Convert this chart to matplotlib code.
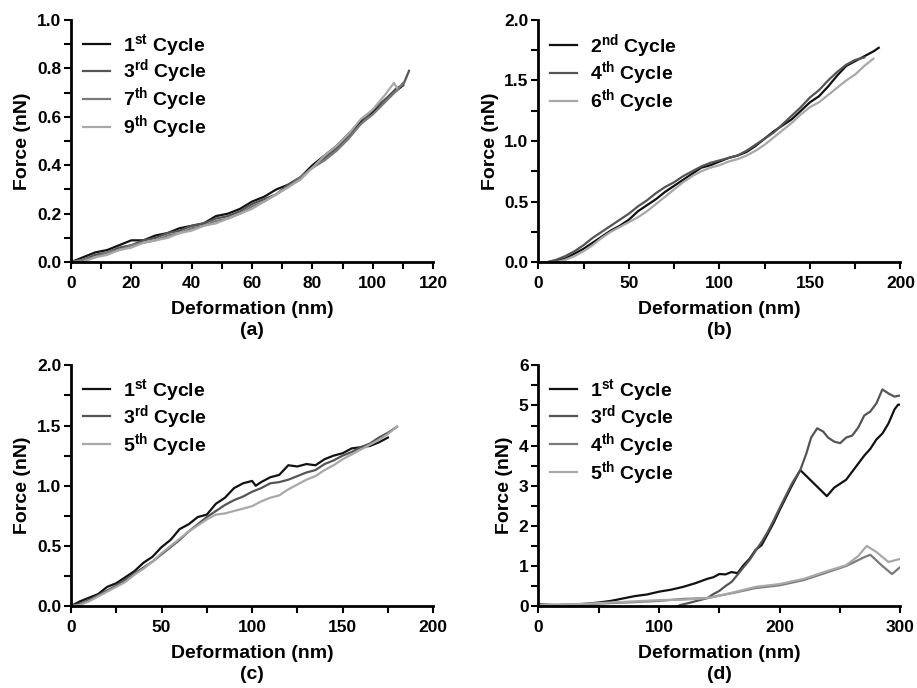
import matplotlib
matplotlib.use("Agg")
import matplotlib.pyplot as plt
from matplotlib.ticker import MultipleLocator, FormatStrFormatter

plt.rcParams["font.family"] = "Liberation Sans"
plt.rcParams["font.weight"] = "bold"
plt.rcParams["mathtext.fontset"] = "custom"
plt.rcParams["mathtext.rm"] = "Liberation Sans:bold"
plt.rcParams["mathtext.bf"] = "Liberation Sans:bold"
plt.rcParams["mathtext.it"] = "Liberation Sans:bold"

# ---- panel (a) data ----
a_x1 = [0, 4, 8, 12, 16, 20, 24, 28, 32, 36, 40, 44, 48, 52, 56, 60, 64, 68, 72, 76, 80, 84, 88, 92, 96, 100, 104, 108, 110]
a_y1 = [0.00, 0.02, 0.04, 0.05, 0.07, 0.09, 0.09, 0.11, 0.12, 0.14, 0.15, 0.16, 0.19, 0.20, 0.22, 0.25, 0.27, 0.30, 0.32, 0.35, 0.40, 0.44, 0.48, 0.53, 0.58, 0.62, 0.67, 0.71, 0.73]
a_x3 = [0, 4, 8, 12, 16, 20, 24, 28, 32, 36, 40, 44, 48, 52, 56, 60, 64, 68, 72, 76, 80, 84, 88, 92, 96, 100, 104, 108, 110, 112]
a_y3 = [0.00, 0.01, 0.03, 0.04, 0.06, 0.07, 0.09, 0.10, 0.12, 0.13, 0.15, 0.16, 0.18, 0.19, 0.21, 0.24, 0.26, 0.28, 0.32, 0.35, 0.39, 0.43, 0.47, 0.52, 0.57, 0.63, 0.67, 0.72, 0.73, 0.79]
a_x7 = [0, 4, 8, 12, 16, 20, 24, 28, 32, 36, 40, 44, 48, 52, 56, 60, 64, 68, 72, 76, 80, 84, 88, 92, 96, 100, 104, 108, 110]
a_y7 = [0.00, 0.01, 0.02, 0.04, 0.05, 0.07, 0.08, 0.09, 0.11, 0.12, 0.14, 0.15, 0.17, 0.18, 0.20, 0.23, 0.25, 0.28, 0.31, 0.35, 0.39, 0.42, 0.46, 0.51, 0.57, 0.61, 0.66, 0.71, 0.74]
a_x9 = [0, 4, 8, 12, 16, 20, 24, 28, 32, 36, 40, 44, 48, 52, 56, 60, 64, 68, 72, 76, 80, 84, 88, 92, 96, 100, 104, 107, 108]
a_y9 = [0.00, 0.00, 0.02, 0.03, 0.05, 0.06, 0.08, 0.09, 0.10, 0.12, 0.13, 0.15, 0.16, 0.18, 0.20, 0.22, 0.25, 0.28, 0.31, 0.34, 0.39, 0.44, 0.48, 0.53, 0.59, 0.63, 0.69, 0.74, 0.72]

# ---- panel (b) data ----
b_x2 = [0, 5, 10, 15, 20, 25, 30, 35, 40, 45, 50, 55, 60, 65, 70, 75, 80, 85, 90, 95, 100, 105, 110, 115, 120, 125, 130, 135, 140, 145, 150, 155, 160, 165, 170, 175, 180, 185, 188]
b_y2 = [0.00, 0.00, 0.01, 0.03, 0.07, 0.11, 0.16, 0.21, 0.26, 0.30, 0.35, 0.42, 0.47, 0.52, 0.58, 0.63, 0.68, 0.73, 0.78, 0.80, 0.83, 0.86, 0.88, 0.91, 0.96, 1.02, 1.08, 1.13, 1.18, 1.25, 1.32, 1.37, 1.45, 1.54, 1.62, 1.66, 1.70, 1.74, 1.77]
b_x4 = [0, 5, 10, 15, 20, 25, 30, 35, 40, 45, 50, 55, 60, 65, 70, 75, 80, 85, 90, 95, 100, 105, 110, 115, 120, 125, 130, 135, 140, 145, 150, 155, 160, 165, 170, 175, 180]
b_y4 = [0.00, 0.00, 0.02, 0.05, 0.09, 0.14, 0.20, 0.25, 0.30, 0.35, 0.40, 0.46, 0.51, 0.57, 0.62, 0.66, 0.71, 0.75, 0.79, 0.82, 0.84, 0.86, 0.88, 0.92, 0.97, 1.02, 1.07, 1.14, 1.21, 1.28, 1.36, 1.42, 1.50, 1.57, 1.63, 1.67, 1.69]
b_x6 = [0, 5, 10, 15, 20, 25, 30, 35, 40, 45, 50, 55, 60, 65, 70, 75, 80, 85, 90, 95, 100, 105, 110, 115, 120, 125, 130, 135, 140, 145, 150, 155, 160, 165, 170, 175, 180, 185]
b_y6 = [0.00, 0.00, 0.00, 0.02, 0.05, 0.09, 0.14, 0.20, 0.25, 0.29, 0.33, 0.37, 0.42, 0.48, 0.54, 0.60, 0.66, 0.71, 0.75, 0.78, 0.80, 0.83, 0.85, 0.88, 0.92, 0.97, 1.03, 1.09, 1.15, 1.22, 1.28, 1.32, 1.38, 1.44, 1.50, 1.55, 1.62, 1.68]

# ---- panel (c) data ----
c_x1 = [0, 5, 10, 15, 20, 25, 30, 35, 40, 45, 50, 55, 60, 65, 70, 75, 80, 85, 90, 95, 100, 102, 105, 110, 115, 120, 125, 130, 135, 140, 145, 150, 155, 160, 165, 170, 175]
c_y1 = [0.00, 0.04, 0.07, 0.10, 0.16, 0.19, 0.24, 0.29, 0.36, 0.41, 0.49, 0.55, 0.64, 0.68, 0.74, 0.76, 0.85, 0.90, 0.98, 1.02, 1.04, 1.00, 1.03, 1.07, 1.09, 1.17, 1.16, 1.18, 1.17, 1.22, 1.25, 1.27, 1.31, 1.32, 1.33, 1.36, 1.40]
c_x3 = [0, 5, 10, 15, 20, 25, 30, 35, 40, 45, 50, 55, 60, 65, 70, 75, 80, 85, 90, 95, 100, 105, 110, 115, 120, 125, 130, 135, 140, 145, 150, 155, 160, 165, 170, 175, 180]
c_y3 = [0.00, 0.02, 0.05, 0.09, 0.13, 0.17, 0.22, 0.27, 0.32, 0.37, 0.43, 0.49, 0.55, 0.62, 0.68, 0.74, 0.79, 0.84, 0.88, 0.91, 0.95, 0.98, 1.02, 1.03, 1.05, 1.08, 1.11, 1.13, 1.18, 1.21, 1.25, 1.28, 1.32, 1.35, 1.40, 1.44, 1.49]
c_x5 = [0, 5, 10, 15, 20, 25, 30, 35, 40, 45, 50, 55, 60, 65, 70, 75, 80, 85, 90, 95, 100, 105, 110, 115, 120, 125, 130, 135, 140, 145, 150, 155, 160, 165, 170, 175, 180]
c_y5 = [0.00, 0.01, 0.04, 0.08, 0.12, 0.16, 0.20, 0.26, 0.31, 0.37, 0.44, 0.50, 0.56, 0.62, 0.67, 0.72, 0.76, 0.77, 0.79, 0.81, 0.83, 0.87, 0.90, 0.92, 0.97, 1.01, 1.05, 1.08, 1.13, 1.17, 1.22, 1.26, 1.30, 1.34, 1.38, 1.43, 1.49]

# ---- panel (d) data ----
d_x1 = [0, 10, 20, 30, 40, 50, 60, 70, 80, 90, 100, 110, 120, 130, 140, 145, 150, 155, 160, 165, 170, 175, 180, 185, 190, 195, 200, 205, 210, 217, 239, 245, 250, 255, 260, 265, 270, 275, 280, 285, 290, 295, 298, 300]
d_y1 = [0.02, 0.02, 0.03, 0.04, 0.06, 0.09, 0.13, 0.19, 0.25, 0.29, 0.36, 0.41, 0.48, 0.57, 0.68, 0.72, 0.80, 0.79, 0.85, 0.82, 1.02, 1.18, 1.40, 1.52, 1.80, 2.08, 2.40, 2.70, 3.00, 3.39, 2.74, 2.95, 3.05, 3.15, 3.35, 3.55, 3.75, 3.92, 4.15, 4.30, 4.55, 4.90, 5.02, 5.02]
d_x3 = [0, 20, 40, 60, 80, 100, 113, 118, 125, 130, 135, 140, 145, 150, 155, 160, 165, 170, 175, 180, 185, 190, 195, 200, 205, 210, 217, 222, 226, 231, 236, 240, 245, 250, 255, 260, 265, 270, 275, 280, 285, 290, 295, 300]
d_y3 = [0.05, 0.02, 0.00, -0.02, -0.03, -0.04, -0.03, 0.03, 0.08, 0.12, 0.16, 0.20, 0.30, 0.38, 0.50, 0.60, 0.78, 0.97, 1.15, 1.38, 1.60, 1.85, 2.14, 2.45, 2.75, 3.05, 3.39, 3.80, 4.20, 4.43, 4.35, 4.20, 4.10, 4.06, 4.20, 4.25, 4.45, 4.75, 4.85, 5.05, 5.40, 5.30, 5.22, 5.25]
d_x4 = [0, 40, 80, 100, 120, 140, 160, 180, 200, 220, 240, 255, 270, 275, 285, 293, 300]
d_y4 = [0.02, 0.05, 0.10, 0.13, 0.18, 0.20, 0.32, 0.45, 0.52, 0.65, 0.85, 1.00, 1.22, 1.28, 1.00, 0.80, 0.98]
d_x5 = [0, 40, 80, 100, 120, 140, 160, 180, 200, 220, 240, 255, 265, 272, 280, 290, 300]
d_y5 = [0.02, 0.06, 0.12, 0.15, 0.16, 0.20, 0.33, 0.48, 0.55, 0.68, 0.88, 1.02, 1.25, 1.50, 1.35, 1.10, 1.18]

c_black, c_dark, c_mid, c_light = "#111111", "#555555", "#7a7a7a", "#a8a8a8"

fig = plt.figure(figsize=(9.17, 6.88), dpi=100)
ax_a = fig.add_axes([0.0774, 0.619, 0.395, 0.352])
ax_b = fig.add_axes([0.587, 0.619, 0.395, 0.352])
ax_c = fig.add_axes([0.0774, 0.119, 0.395, 0.350])
ax_d = fig.add_axes([0.587, 0.119, 0.395, 0.350])


def style(ax, xmax, xmaj, xmin, ymax, ymaj, ymin, tag):
    ax.set_xlim(0, xmax)
    ax.set_ylim(0, ymax)
    ax.xaxis.set_major_locator(MultipleLocator(xmaj))
    ax.xaxis.set_minor_locator(MultipleLocator(xmin))
    ax.yaxis.set_major_locator(MultipleLocator(ymaj))
    ax.yaxis.set_minor_locator(MultipleLocator(ymin))
    for s in ("top", "right"):
        ax.spines[s].set_visible(False)
    for s in ("left", "bottom"):
        ax.spines[s].set_linewidth(2)
    ax.tick_params(which="both", direction="out", length=5, width=1.5, labelsize=12.5)
    ax.tick_params(axis="x", pad=5)
    ax.tick_params(axis="y", pad=2)
    ax.set_xlabel("Deformation (nm)\n(" + tag + ")", fontsize=14, fontweight="bold",
                  labelpad=7, linespacing=1.3)
    ax.set_ylabel("Force (nN)", fontsize=14, fontweight="bold", labelpad=4)
    ax.legend(loc="upper left", frameon=False, fontsize=14, handlelength=1.4,
              labelspacing=0.0, borderaxespad=0.2, handletextpad=0.65,
              bbox_to_anchor=(0.0, 1.0))


def lab(n, suf):
    return n + "$^{\\mathrm{" + suf + "}}$ Cycle"


lw = 1.6
ax_a.plot(a_x1, a_y1, color=c_black, lw=lw, label=lab("1", "st"))
ax_a.plot(a_x3, a_y3, color=c_dark, lw=lw, label=lab("3", "rd"))
ax_a.plot(a_x7, a_y7, color=c_mid, lw=lw, label=lab("7", "th"))
ax_a.plot(a_x9, a_y9, color=c_light, lw=lw, label=lab("9", "th"))
ax_a.yaxis.set_major_formatter(FormatStrFormatter("%.1f"))
style(ax_a, 120, 20, 10, 1.0, 0.2, 0.1, "a")

ax_b.plot(b_x2, b_y2, color=c_black, lw=lw, label=lab("2", "nd"))
ax_b.plot(b_x4, b_y4, color=c_dark, lw=lw, label=lab("4", "th"))
ax_b.plot(b_x6, b_y6, color=c_light, lw=lw, label=lab("6", "th"))
ax_b.yaxis.set_major_formatter(FormatStrFormatter("%.1f"))
style(ax_b, 200, 50, 25, 2.0, 0.5, 0.25, "b")

ax_c.plot(c_x1, c_y1, color=c_black, lw=lw, label=lab("1", "st"))
ax_c.plot(c_x3, c_y3, color=c_dark, lw=lw, label=lab("3", "rd"))
ax_c.plot(c_x5, c_y5, color=c_light, lw=lw, label=lab("5", "th"))
ax_c.yaxis.set_major_formatter(FormatStrFormatter("%.1f"))
style(ax_c, 200, 50, 25, 2.0, 0.5, 0.25, "c")

ax_d.plot(d_x1, d_y1, color=c_black, lw=lw, label=lab("1", "st"))
ax_d.plot(d_x3, d_y3, color=c_dark, lw=lw, label=lab("3", "rd"))
ax_d.plot(d_x4, d_y4, color=c_mid, lw=lw, label=lab("4", "th"))
ax_d.plot(d_x5, d_y5, color=c_light, lw=lw, label=lab("5", "th"))
style(ax_d, 300, 100, 50, 6, 1, 0.5, "d")

fig.savefig("out.png", dpi=100)
